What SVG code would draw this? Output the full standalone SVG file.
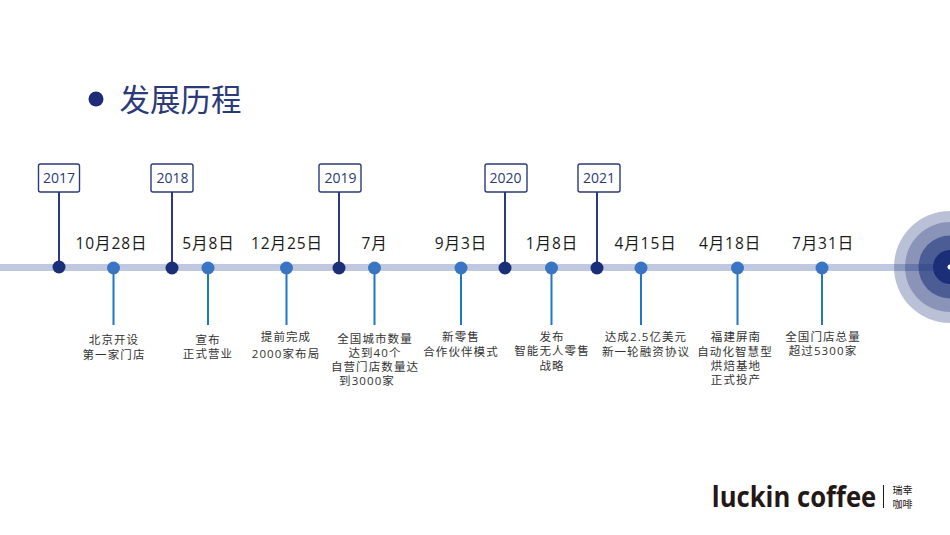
<svg xmlns="http://www.w3.org/2000/svg" width="950" height="535" viewBox="0 0 950 535">
<style>
text{font-family:"Open Sans","Noto Sans","Noto Sans CJK SC",sans-serif;text-anchor:middle}
.d{font-size:15.500px;letter-spacing:.9px;fill:#1a1a1a}
.c{font-size:11.500px;letter-spacing:1.100px;fill:#333}
.y{font-size:14px;fill:#2b3a78}
.yb{fill:#fff;stroke:#2b3a78;stroke-width:1.4}
.yl{stroke:#2b3a78;stroke-width:2;fill:none}
.ml{stroke:#1f78c4;stroke-width:2;fill:none}
.dd{fill:#1a2f78}
.md{fill:#3a75c4}
.cn{font-size:10px;fill:#231815}
</style>
<rect width="950" height="535" fill="#fff"/>
<g id="title"><circle cx="96" cy="99" r="7.500" fill="#1f2a78"/><text x="180.500" y="111" style="font-size:30.500px;fill:#2b3a78">发展历程</text></g>
<g id="connectors">
<rect x="0" y="264" width="950" height="7" fill="#bfc8de"/>
<path class="yl" d="M59 192V267M172 192V267M339 192V267M505 192V267M597 192V267"/>
<path class="ml" d="M113.500 268V325M208 268V325M286.500 268V325M374.500 268V325M461 268V325M551.500 268V325M641 268V325M737.500 268V325M822 268V325"/>
</g>
<g id="target">
<circle cx="950" cy="267" r="56" fill="#1a2f78" fill-opacity=".3"/>
<circle cx="950" cy="267" r="45" fill="#1a2f78" fill-opacity=".3"/>
<circle cx="950" cy="267" r="31.500" fill="#1a2f78" fill-opacity=".55"/>
<circle cx="950" cy="267" r="17" fill="#1a2f78"/>
<circle cx="950" cy="267" r="2.500" fill="#fff"/>
</g>
<g id="y2017"><rect class="yb" x="38.500" y="164" width="41" height="28" rx="2"/><text class="y" x="59" y="183">2017</text><circle class="dd" cx="59" cy="267" r="6.500"/></g>
<g id="y2018"><rect class="yb" x="151" y="164" width="42" height="28" rx="2"/><text class="y" x="172.500" y="183">2018</text><circle class="dd" cx="172" cy="268" r="6.500"/></g>
<g id="y2019"><rect class="yb" x="319" y="164" width="42" height="28" rx="2"/><text class="y" x="340.500" y="183">2019</text><circle class="dd" cx="339" cy="268" r="6.500"/></g>
<g id="y2020"><rect class="yb" x="485" y="164" width="42" height="28" rx="2"/><text class="y" x="505.500" y="183">2020</text><circle class="dd" cx="505" cy="268" r="6.500"/></g>
<g id="y2021"><rect class="yb" x="578" y="164" width="42" height="28" rx="2"/><text class="y" x="599" y="183">2021</text><circle class="dd" cx="597" cy="268" r="6.500"/></g>
<g id="e1"><text class="d" x="111.500" y="249">10月28日</text><circle class="md" cx="113.500" cy="268" r="6.500"/><text class="c" x="114" y="344">北京开设</text><text class="c" x="114" y="359">第一家门店</text></g>
<g id="e2"><text class="d" x="208.500" y="249">5月8日</text><circle class="md" cx="208" cy="268" r="6.500"/><text class="c" x="208" y="344">宣布</text><text class="c" x="208" y="358">正式营业</text></g>
<g id="e3"><text class="d" x="287" y="249">12月25日</text><circle class="md" cx="286.500" cy="268" r="6.500"/><text class="c" x="286" y="341">提前完成</text><text class="c" x="286" y="358">2000家布局</text></g>
<g id="e4"><text class="d" x="374.500" y="249">7月</text><circle class="md" cx="374.500" cy="268" r="6.500"/><text class="c" x="375" y="343">全国城市数量</text><text class="c" x="375" y="357">达到40个</text><text class="c" x="375" y="371">自营门店数量达</text><text class="c" x="367" y="385">到3000家</text></g>
<g id="e5"><text class="d" x="461" y="249">9月3日</text><circle class="md" cx="461" cy="268" r="6.500"/><text class="c" x="461" y="341">新零售</text><text class="c" x="461" y="356">合作伙伴模式</text></g>
<g id="e6"><text class="d" x="552" y="249">1月8日</text><circle class="md" cx="551.500" cy="268" r="6.500"/><text class="c" x="552" y="341">发布</text><text class="c" x="552" y="355">智能无人零售</text><text class="c" x="552" y="370">战略</text></g>
<g id="e7"><text class="d" x="645.500" y="249">4月15日</text><circle class="md" cx="641" cy="268" r="6.500"/><text class="c" x="646" y="341">达成2.5亿美元</text><text class="c" x="646" y="356">新一轮融资协议</text></g>
<g id="e8"><text class="d" x="730" y="249">4月18日</text><circle class="md" cx="737.500" cy="268" r="6.500"/><text class="c" x="736" y="341">福建屏南</text><text class="c" x="735" y="356">自动化智慧型</text><text class="c" x="736" y="370">烘焙基地</text><text class="c" x="736" y="384">正式投产</text></g>
<g id="e9"><text class="d" x="823" y="249">7月31日</text><circle class="md" cx="822" cy="268" r="6.500"/><text class="c" x="823" y="341">全国门店总量</text><text class="c" x="823" y="355">超过5300家</text></g>
<g id="logo"><text transform="translate(794 507) scale(.885 1)" style="font-size:29px;font-weight:700;fill:#231815">luckin coffee</text>
<rect x="883" y="485" width="1" height="23" fill="#231815"/>
<text class="cn" x="902.500" y="494">瑞幸</text><text class="cn" x="902.500" y="507.500">咖啡</text></g>
</svg>
